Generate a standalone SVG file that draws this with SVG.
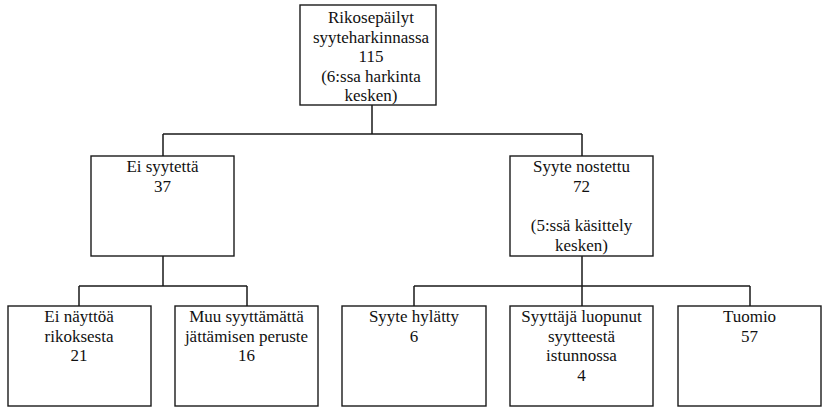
<svg xmlns="http://www.w3.org/2000/svg" width="822" height="407" viewBox="0 0 822 407">
<style>
.box{fill:#fff;stroke:#1a1a1a;stroke-width:1.4}
.c{fill:none;stroke:#1a1a1a;stroke-width:1.5}
</style>
<g id="connectors">
<path class="c" d="M372,105V134M163,134H582M163,134V156M582,134V156"/>
<path class="c" d="M163,256V286M79,286H247M79,286V306M247,286V306"/>
<path class="c" d="M582,256V306M414,286H750M414,286V306M750,286V306"/>
</g>
<g font-family="Liberation Serif" font-size="17" fill="#111" text-anchor="middle">
<g id="n-root">
<rect class="box" x="300" y="5" width="136" height="100"/>
<text x="371" y="23">Rikosepäilyt</text>
<text x="371" y="42.5">syyteharkinnassa</text>
<text x="371" y="62">115</text>
<text x="371" y="81.5">(6:ssa harkinta</text>
<text x="371" y="101">kesken)</text>
</g>
<g id="n-eisyytetta">
<rect class="box" x="91" y="156" width="143" height="100"/>
<text x="162.5" y="172">Ei syytettä</text>
<text x="162.5" y="191.5">37</text>
</g>
<g id="n-syytenostettu">
<rect class="box" x="510" y="156" width="143" height="100"/>
<text x="581.5" y="172">Syyte nostettu</text>
<text x="581.5" y="191.5">72</text>
<text x="581.5" y="231">(5:ssä käsittely</text>
<text x="581.5" y="250.5">kesken)</text>
</g>
<g id="n-einayttoa">
<rect class="box" x="8" y="306" width="143" height="100"/>
<text x="79" y="322">Ei näyttöä</text>
<text x="79" y="341.5">rikoksesta</text>
<text x="79" y="361">21</text>
</g>
<g id="n-muu">
<rect class="box" x="175" y="306" width="143" height="100"/>
<text x="246.5" y="322">Muu syyttämättä</text>
<text x="246.5" y="341.5">jättämisen peruste</text>
<text x="246.5" y="361">16</text>
</g>
<g id="n-hylatty">
<rect class="box" x="342" y="306" width="144" height="100"/>
<text x="414" y="322">Syyte hylätty</text>
<text x="414" y="341.5">6</text>
</g>
<g id="n-luopunut">
<rect class="box" x="510" y="306" width="143" height="100"/>
<text x="581.5" y="322">Syyttäjä luopunut</text>
<text x="581.5" y="341.5">syytteestä</text>
<text x="581.5" y="361">istunnossa</text>
<text x="581.5" y="380.5">4</text>
</g>
<g id="n-tuomio">
<rect class="box" x="678" y="306" width="143" height="100"/>
<text x="749.5" y="322">Tuomio</text>
<text x="749.5" y="341.5">57</text>
</g>
</g>
</svg>
